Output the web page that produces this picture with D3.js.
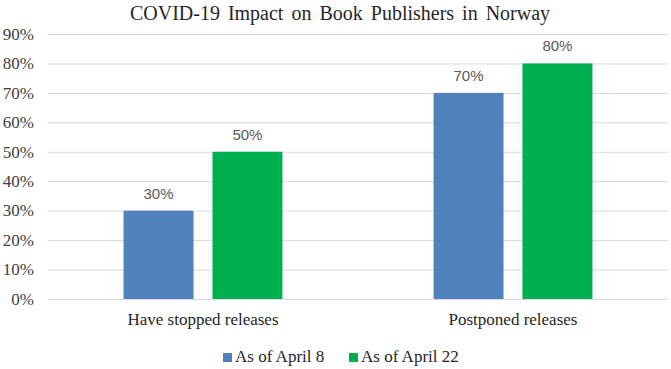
<!DOCTYPE html>
<html>
<head>
<meta charset="utf-8">
<script src="https://cdn.jsdelivr.net/npm/d3@7"></script>
<style>
  body { margin: 0; background: #fff; }
  svg { display: block; }
</style>
</head>
<body>
<svg width="671" height="369"></svg>
<script>
// data
var categories = ["Have stopped releases", "Postponed releases"];
var seriesNames = ["As of April 8", "As of April 22"];
var april8 = [30, 70];
var april22 = [50, 80];
var yTicks = [0, 10, 20, 30, 40, 50, 60, 70, 80, 90];

var colors = ["#4f81bd", "#00b050"];

var data = categories.map(function(c, i) {
  return { Category: c, values: [april8[i], april22[i]] };
});

var svg = d3.select("svg"),
    margin = {top: 34, right: 3, bottom: 70, left: 48},
    width = +svg.attr("width") - margin.left - margin.right,
    height = +svg.attr("height") - margin.top - margin.bottom,
    g = svg.append("g").attr("transform", "translate(" + margin.left + "," + margin.top + ")");

var y = d3.scaleLinear().domain([0, 90]).range([height, 0]);

var x0 = d3.scaleBand().domain(categories).range([0, width]).padding(0);

var x1 = d3.scaleBand()
    .domain(seriesNames)
    .range([0, x0.bandwidth()])
    .paddingInner(0.213)
    .paddingOuter(0.85);

var z = d3.scaleOrdinal().domain(seriesNames).range(colors);

// gridlines + tick labels
g.selectAll(".grid")
  .data(yTicks)
  .enter().append("line")
    .attr("x1", 0)
    .attr("x2", width)
    .attr("y1", function(d) { return y(d) + 0.5; })
    .attr("y2", function(d) { return y(d) + 0.5; })
    .attr("stroke", "#d9d9d9")
    .attr("stroke-width", 1);

g.selectAll(".ytick")
  .data(yTicks)
  .enter().append("text")
    .attr("x", -14)
    .attr("y", function(d) { return y(d); })
    .attr("dy", "0.34em")
    .attr("text-anchor", "end")
    .attr("font-family", "Liberation Serif, Times New Roman, serif")
    .attr("font-size", 17)
    .attr("fill", "#404040")
    .text(function(d) { return d + "%"; });

// bars
var groups = g.selectAll(".grp")
  .data(data)
  .enter().append("g")
    .attr("transform", function(d) { return "translate(" + x0(d.Category) + ",0)"; });

groups.selectAll("rect")
  .data(function(d) { return seriesNames.map(function(k, i) { return {key: k, value: d.values[i]}; }); })
  .enter().append("rect")
    .attr("x", function(d) { return x1(d.key); })
    .attr("y", function(d) { return y(d.value); })
    .attr("width", x1.bandwidth())
    .attr("height", function(d) { return y(0) - y(d.value); })
    .attr("fill", function(d) { return z(d.key); });

groups.selectAll(".lbl")
  .data(function(d) { return seriesNames.map(function(k, i) { return {key: k, value: d.values[i]}; }); })
  .enter().append("text")
    .attr("x", function(d) { return x1(d.key) + x1.bandwidth() / 2; })
    .attr("y", function(d) { return y(d.value) - 12; })
    .attr("text-anchor", "middle")
    .attr("font-family", "Liberation Sans, Arial, sans-serif")
    .attr("font-size", 15)
    .attr("fill", "#595959")
    .text(function(d) { return d.value + "%"; });

// category labels
g.selectAll(".cat")
  .data(categories)
  .enter().append("text")
    .attr("x", function(d) { return x0(d) + x0.bandwidth() / 2; })
    .attr("y", height + 26)
    .attr("text-anchor", "middle")
    .attr("font-family", "Liberation Serif, Times New Roman, serif")
    .attr("font-size", 17)
    .attr("fill", "#262626")
    .text(function(d) { return d; });

// title
svg.append("text")
    .attr("x", 340)
    .attr("y", 20)
    .attr("text-anchor", "middle")
    .attr("font-family", "Liberation Serif, Times New Roman, serif")
    .attr("font-size", 20)
    .attr("word-spacing", 3)
    .attr("fill", "#262626")
    .text("COVID-19 Impact on Book Publishers in Norway");

// legend
var legend = svg.append("g")
    .attr("font-family", "Liberation Serif, Times New Roman, serif")
    .attr("font-size", 17)
    .selectAll("g")
    .data(seriesNames)
    .enter().append("g")
      .attr("transform", function(d, i) { return "translate(" + (223 + i * 126) + ",353)"; });

legend.append("rect")
    .attr("width", 9)
    .attr("height", 9)
    .attr("fill", z);

legend.append("text")
    .attr("x", 12)
    .attr("y", 9)
    .attr("fill", "#262626")
    .text(function(d) { return d; });
</script>
</body>
</html>
